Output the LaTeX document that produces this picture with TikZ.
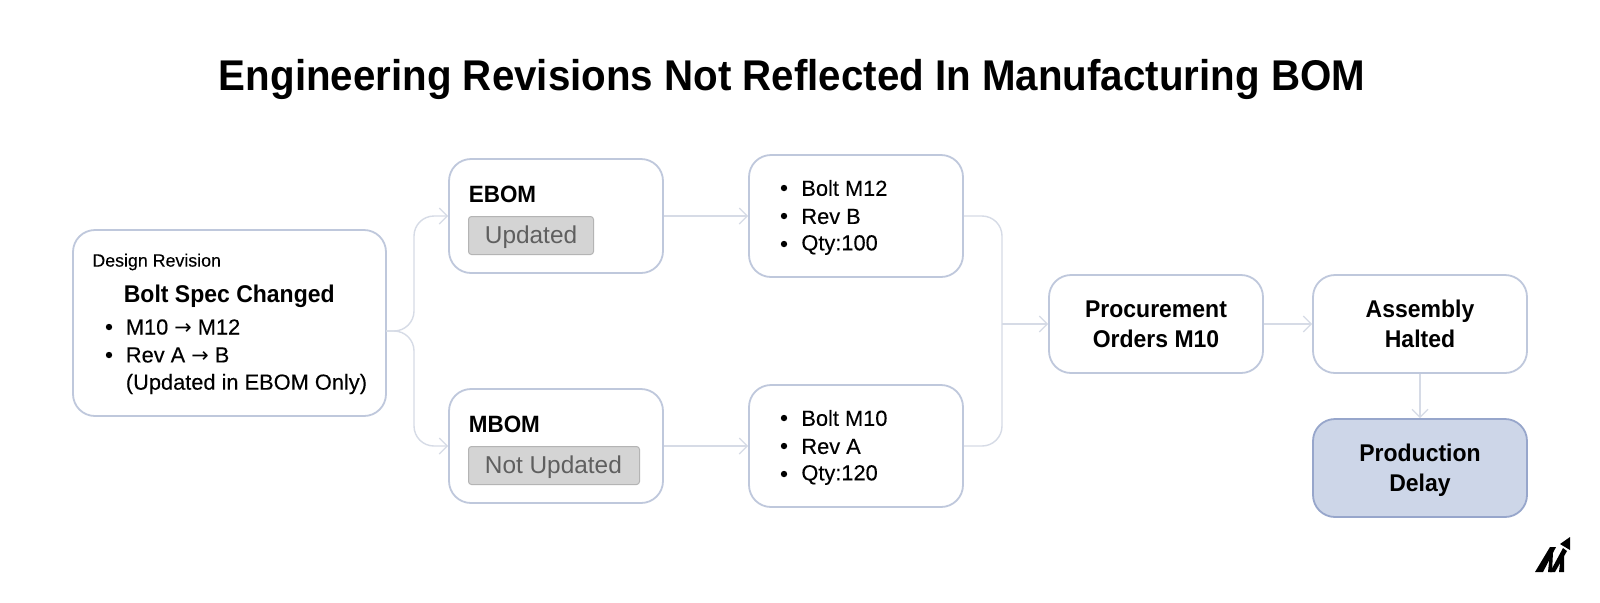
\documentclass[tikz,border=0pt]{standalone}
\usepackage{fontspec}
\setmainfont{Liberation Sans}
\newfontfamily\titlefont[FakeStretch=0.937]{Liberation Sans Bold}
\newfontfamily\medfont[FakeStretch=0.95]{Liberation Sans Bold}
\newfontfamily\bodyfont[FakeBold=0.2]{Liberation Sans}
\newfontfamily\arrowfont{DejaVu Sans}
\newcommand{\arr}{{\arrowfont\fontsize{10.4}{13}\selectfont →}}
\usetikzlibrary{arrows.meta}
\definecolor{boxline}{HTML}{BFC8DC}
\definecolor{connc}{HTML}{D6DBE6}
\definecolor{delayfill}{HTML}{CDD6E8}
\definecolor{delayline}{HTML}{97A6CB}
\definecolor{tagfill}{HTML}{D4D4D4}
\definecolor{tagline}{HTML}{B4B4B4}
\definecolor{tagtext}{HTML}{5F5F5F}
\tikzset{
  x=0.5pt,y=-0.5pt,
  box/.style={draw=boxline,line width=0.9pt,rounded corners=11pt,fill=white,inner sep=0pt},
  widebox/.style={box,minimum width=107pt,minimum height=#1},
  delaybox/.style={widebox=49pt,fill=delayfill,draw=delayline},
  conn/.style={draw=connc,line width=0.7pt,-{Straight Barb[length=4pt,width=8pt,line width=0.6pt]},rounded corners=10pt},
  lbl/.style={inner sep=0pt,font=\fontsize{12.1}{15}\medfont,align=center,text=black},
  head/.style={lbl,anchor=west},
  tag/.style={draw=tagline,fill=tagfill,rounded corners=1.5pt,line width=0.5pt,inner sep=0pt,minimum height=19pt,anchor=north west},
  tagtxt/.style={inner sep=0pt,anchor=west,font=\fontsize{12.2}{14}\selectfont,text=tagtext},
  listitem/.style={inner sep=0pt,anchor=west,font=\fontsize{10.9}{13}\bodyfont},
  dotm/.style={circle,fill=black,inner sep=0pt,minimum size=3.2pt}
}
\begin{document}
\begin{tikzpicture}
\path[use as bounding box] (0,0) rectangle (1600,602);
\fill[white] (0,0) rectangle (1600,602);
\node[inner sep=0pt,font=\fontsize{21.5}{26}\titlefont] (title) at (792,79) {Engineering Revisions Not Reflected In Manufacturing BOM};
% boxes
\node[box,minimum width=156.5pt,minimum height=93pt] (design) at (229.5,323) {};
\node[widebox=57pt] (ebom) at (556,216) {};
\node[widebox=57pt] (mbom) at (556,446) {};
\node[widebox=61pt] (elist) at (856,216) {};
\node[widebox=61pt] (mlist) at (856,446) {};
\node[widebox=49pt] (proc) at (1156,324) {};
\node[widebox=49pt] (assembly) at (1420,324) {};
\node[delaybox] (delay) at (1420,468) {};
% connectors
\coordinate (split) at (386,331);
\coordinate (merge) at (1002,324);
\draw[conn] (split) -- (414,331) |- (ebom.west);
\draw[conn] (split) -- (414,331) |- (mbom.west);
\draw[conn] (ebom.east) -- (elist.west);
\draw[conn] (mbom.east) -- (mlist.west);
\draw[conn,-] (elist.east) -| (merge);
\draw[conn,-] (mlist.east) -| (merge);
\draw[conn] (merge) -- (proc.west);
\draw[conn] (proc.east) -- (assembly.west);
\draw[conn] (assembly.south) -- (delay.north);
% design text
\node[listitem,font=\fontsize{8.9}{11}\bodyfont] (dtitle) at (92,262) {Design Revision};
\node[head,font=\fontsize{12.1}{15}\medfont] (dhead) at (123.5,296) {Bolt Spec Changed};
\node[dotm] (d1) at (109,327) {};
\node[dotm] (d2) at (109,355) {};
\node[listitem] (dt1) at (125.5,327) {M10 \arr{} M12};
\node[listitem] (dt2) at (125.5,355) {Rev A \arr{} B};
\node[listitem] (dt3) at (125.5,384) {(Updated in EBOM Only)};
% ebom mbom
\node[head,font=\fontsize{11.8}{15}\medfont] (ehead) at (468.5,194) {EBOM};
\node[tag,minimum width=62.5pt] (etag) at (468,216) {};
\node[tagtxt] (etagt) at (484.5,237) {Updated};
\node[head,font=\fontsize{11.8}{15}\medfont] (mhead) at (468.5,424) {MBOM};
\node[tag,minimum width=85.5pt] (mtag) at (468,446) {};
\node[tagtxt] (mtagt) at (484.5,467) {Not Updated};
% lists
\node[dotm] (e1) at (784,188) {};
\node[dotm] (e2) at (784,216) {};
\node[dotm] (e3) at (784,244) {};
\node[listitem] (et1) at (801,188) {Bolt M12};
\node[listitem] (et2) at (801,216.5) {Rev B};
\node[listitem] (et3) at (801,245) {Qty:100};
\node[dotm] (m1) at (784,418) {};
\node[dotm] (m2) at (784,446) {};
\node[dotm] (m3) at (784,474) {};
\node[listitem] (mt1) at (801,418) {Bolt M10};
\node[listitem] (mt2) at (801,446.5) {Rev A};
\node[listitem] (mt3) at (801,475) {Qty:120};
% centred labels
\node[lbl] (ptext) at (proc.center) {Procurement\\Orders M10};
\node[lbl] (atext) at (assembly.center) {Assembly\\Halted};
\node[lbl] (dltext) at ([yshift=-1pt]delay.center) {Production\\Delay};
% logo
\fill[black] (1535,572) -- (1550,547) -- (1556,547) -- (1543,572) -- cycle;
\fill[black] (1548,572) -- (1550,552) -- (1553,552) -- (1552,572) -- cycle;
\fill[black] (1550,572) -- (1563,548) -- (1567,551) -- (1555,572) -- cycle;
\fill[black] (1559,572) -- (1561,556) -- (1564,556) -- (1564,572) -- cycle;
\fill[black] (1560,544) -- (1570,537) -- (1570,550) -- cycle;
\end{tikzpicture}
\end{document}
